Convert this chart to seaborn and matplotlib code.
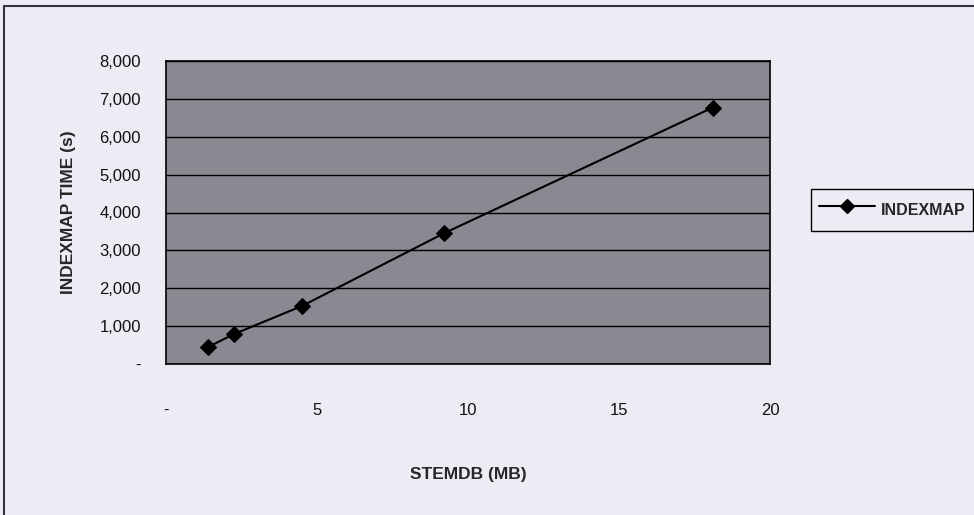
import numpy as np
import pandas as pd
import matplotlib
matplotlib.use("Agg")
import matplotlib.pyplot as plt
from matplotlib.lines import Line2D
from matplotlib.ticker import FuncFormatter
import seaborn as sns

# data
stemdb_mb = [1.4, 2.25, 4.5, 9.2, 18.1]
indexmap_time = [450, 790, 1530, 3450, 6770]
series_name = "INDEXMAP"

df = pd.DataFrame({"STEMDB (MB)": stemdb_mb, "time": indexmap_time, "series": series_name})

sns.set_style("white")
plt.rcParams["font.family"] = ["Liberation Sans", "DejaVu Sans"]

fig = plt.figure(figsize=(9.74, 5.15), dpi=100, facecolor="#eeebf5")
ax = fig.add_axes([166 / 974, 1 - 364 / 515, (770 - 166) / 974, (364 - 61) / 515])
ax.set_facecolor("#8a8992")

sns.lineplot(data=df, x="STEMDB (MB)", y="time", hue="series", palette=["black"],
             marker="D", markersize=8, markeredgecolor="black", linewidth=1.5,
             ax=ax, zorder=3)

ax.set_xlim(0, 20)
ax.set_ylim(0, 8000)
ax.set_xticks(range(0, 21, 5))
ax.set_yticks(range(0, 8001, 1000))
dash0 = lambda v, p: "-" if v == 0 else f"{int(v):,}"
ax.xaxis.set_major_formatter(FuncFormatter(dash0))
ax.yaxis.set_major_formatter(FuncFormatter(dash0))

ax.grid(axis="y", color="black", linewidth=1.0)
ax.grid(axis="x", visible=False)
for s in ax.spines.values():
    s.set_color("black")
    s.set_linewidth(1.2)

ax.tick_params(axis="both", direction="out", length=6, width=1, color="black",
               labelsize=12, labelcolor="#111111")
ax.tick_params(axis="x", pad=22)
ax.tick_params(axis="y", pad=12)

ax.set_xlabel("STEMDB (MB)", fontsize=12.5, fontweight="bold", labelpad=35)
ax.set_ylabel("INDEXMAP TIME (s)", fontsize=12.5, fontweight="bold", labelpad=17)

ax.get_legend().remove()
handle = Line2D([], [], color="black", linewidth=1.5, marker="D", markersize=7)
fig.legend([handle], [series_name], loc="center left",
           bbox_to_anchor=(803 / 974, 1 - 210 / 515), frameon=True, fancybox=False,
           edgecolor="black", facecolor="#eeebf5", framealpha=1,
           prop={"size": 11.5, "weight": "bold"}, handlelength=3.5, handletextpad=0.35,
           handleheight=2.1, borderpad=0.5)

# outer chart border
fig.add_artist(Line2D([4 / 974, 4 / 974], [0, 1 - 6 / 515], transform=fig.transFigure,
                      color="#333344", linewidth=1.5))
fig.add_artist(Line2D([4 / 974, 1], [1 - 6 / 515, 1 - 6 / 515], transform=fig.transFigure,
                      color="#333344", linewidth=1.5))

fig.savefig("out.png", dpi=100, facecolor=fig.get_facecolor())
